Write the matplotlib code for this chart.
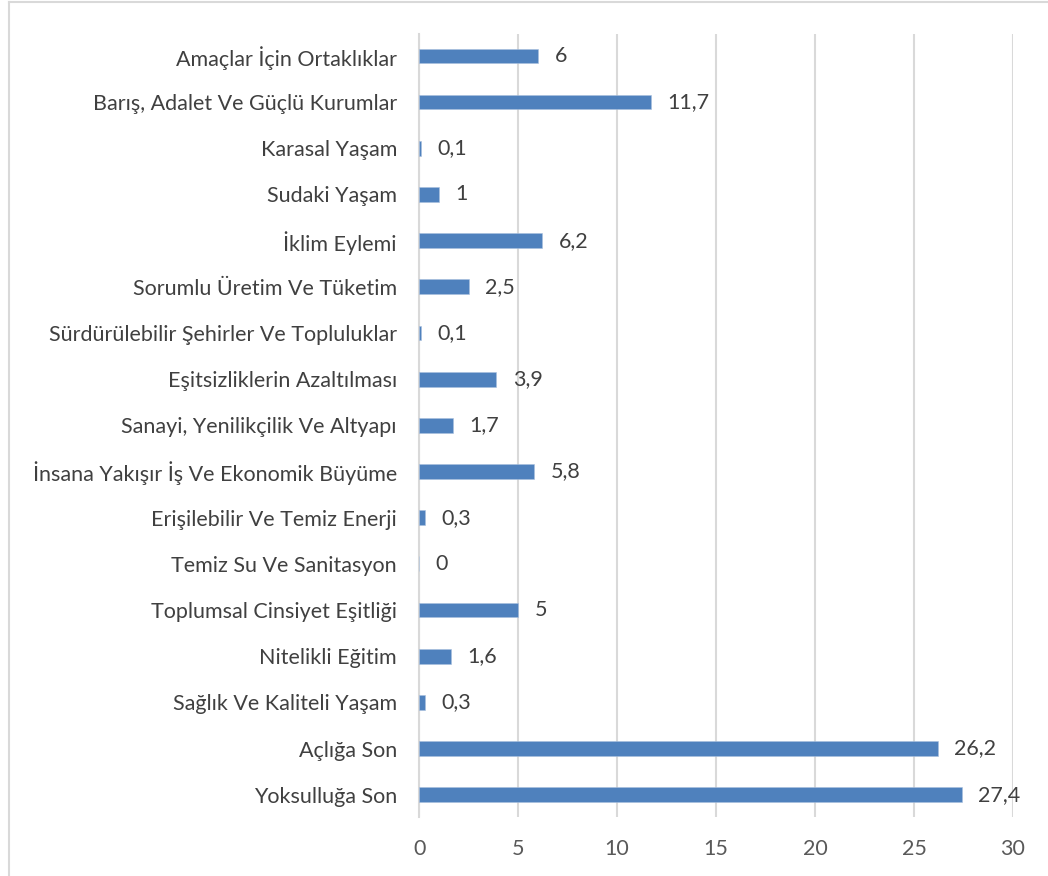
import matplotlib.pyplot as plt
from matplotlib.lines import Line2D

plt.rcParams['font.family'] = ['Lato', 'DejaVu Sans']

# SDG goals, bottom to top as drawn
goals = [
    'Yoksulluğa Son',
    'Açlığa Son',
    'Sağlık Ve Kaliteli Yaşam',
    'Nitelikli Eğitim',
    'Toplumsal Cinsiyet Eşitliği',
    'Temiz Su Ve Sanitasyon',
    'Erişilebilir Ve Temiz Enerji',
    'İnsana Yakışır İş Ve Ekonomik Büyüme',
    'Sanayi, Yenilikçilik Ve Altyapı',
    'Eşitsizliklerin Azaltılması',
    'Sürdürülebilir Şehirler Ve Topluluklar',
    'Sorumlu Üretim Ve Tüketim',
    'İklim Eylemi',
    'Sudaki Yaşam',
    'Karasal Yaşam',
    'Barış, Adalet Ve Güçlü Kurumlar',
    'Amaçlar İçin Ortaklıklar',
]
values = [27.4, 26.2, 0.3, 1.6, 5, 0, 0.3, 5.8, 1.7, 3.9, 0.1, 2.5, 6.2, 1, 0.1, 11.7, 6]
xticks = [0, 5, 10, 15, 20, 25, 30]

bar_color = '#4f81bd'
text_color = '#404040'

fig = plt.figure(figsize=(10.48, 8.76), dpi=100)
ax = fig.add_axes([0.400, 0.0675, 0.5666, 0.894])

ypos = range(len(goals))
ax.barh(ypos, values, height=0.32, color=bar_color, edgecolor='#a9c0de', linewidth=0.4, zorder=3)

for y, v in zip(ypos, values):
    ax.annotate(f'{v:g}'.replace('.', ','), (v, y), xytext=(12, 0), textcoords='offset points',
                ha='left', va='center', fontsize=15.5, color=text_color)

ax.set_xlim(0, 30)
ax.set_ylim(-0.48, len(goals) - 0.52)
ax.set_xticks(xticks)
ax.set_yticks(list(ypos))
ax.set_yticklabels(goals)
ax.tick_params(axis='y', length=0, pad=16, labelsize=15.5, labelcolor=text_color)
ax.tick_params(axis='x', length=0, pad=16, labelsize=15.5, labelcolor='#595959')

ax.grid(axis='x', color='#d9d9d9', linewidth=1.5, zorder=0)
for s in ['top', 'right', 'bottom']:
    ax.spines[s].set_visible(False)
ax.spines['left'].set_color('#d9d9d9')
ax.spines['left'].set_linewidth(1.5)

# outer chart border (left and top visible)
fig.add_artist(Line2D([0.0085, 0.0085], [0, 0.998], color='#d9d9d9', linewidth=1.5))
fig.add_artist(Line2D([0.0085, 1], [0.998, 0.998], color='#d9d9d9', linewidth=1.5))

fig.savefig('out.png', dpi=100, facecolor='white')
